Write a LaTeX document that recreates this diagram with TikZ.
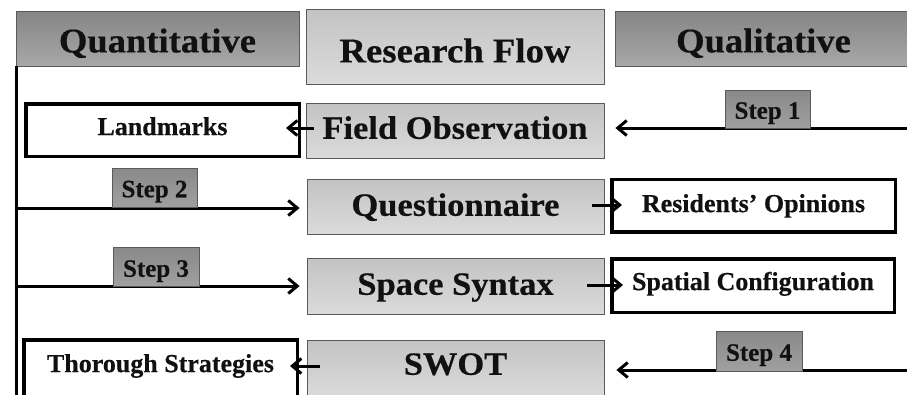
\documentclass[tikz,border=0pt]{standalone}
\usepackage{fontspec}
\newfontfamily\tnr{Liberation Serif}[FakeBold=0.4]
\newfontfamily\tnrw{Liberation Serif}[FakeStretch=1.06,FakeBold=0.4]
\usetikzlibrary{arrows.meta,shadings,calc}
\definecolor{hdrtop}{HTML}{858585}
\definecolor{hdrbot}{HTML}{A8A8A8}
\definecolor{midtop}{HTML}{C3C3C3}
\definecolor{midbot}{HTML}{DBDBDB}
\definecolor{steptop}{HTML}{898989}
\definecolor{stepbot}{HTML}{A0A0A0}
\definecolor{edgegray}{HTML}{5A5A5A}
\definecolor{ink}{HTML}{111111}
\begin{document}
\begin{tikzpicture}[x=1pt,y=-1pt,
  tpos/.style 2 args={text height=#1pt, text depth=#2pt},
  hdr/.style={draw=edgegray, line width=0.8pt, top color=hdrtop, bottom color=hdrbot,
    inner sep=0pt, text=ink, font=\tnrw\bfseries\fontsize{34.5}{38}\selectfont},
  mid/.style={draw=edgegray, line width=0.8pt, top color=midtop, bottom color=midbot,
    inner sep=0pt, text=ink, font=\tnrw\bfseries\fontsize{32.5}{36}\selectfont},
  big/.style={font=\tnrw\bfseries\fontsize{34.7}{38}\selectfont},
  wbox/.style={draw=black, line width=3.5pt, fill=white, inner sep=0pt, text=ink,
    font=\tnr\bfseries\fontsize{26}{29}\selectfont},
  stepbox/.style={draw=edgegray, line width=0.8pt, top color=steptop, bottom color=stepbot,
    inner sep=0pt, text=ink, font=\tnr\bfseries\fontsize{25}{28}\selectfont},
  arr/.style={draw=black, line width=3pt, -{Straight Barb[length=9pt,width=15pt]}},
  plain/.style={draw=black, line width=3pt}
]
\useasboundingbox (0,0) rectangle (907,394);
\clip (0,0) rectangle (907,394);

% header row
\node[hdr, minimum width=283pt, minimum height=55pt, tpos={27.8}{0}] (quant) at (157.5,38.5) {Quantitative};
\node[mid, big, minimum width=298pt, minimum height=75pt, tpos={31.8}{0}] (flow) at (455,46.5) {Research Flow};
\node[hdr, minimum width=297pt, minimum height=55pt, tpos={27.8}{0}] (qual) at (763.5,38.5) {Qualitative};

% middle column
\node[mid, minimum width=298pt, minimum height=55pt, tpos={21.5}{5}] (fo) at (455,130.5) {Field Observation};
\node[mid, minimum width=297pt, minimum height=55pt, tpos={21.5}{3}] (qn) at (455.5,206.5) {Questionnaire};
\node[mid, minimum width=297pt, minimum height=56pt, tpos={21.5}{4}] (ss) at (455.5,286) {Space Syntax};
\node[mid, minimum width=297pt, minimum height=56pt, tpos={21.5}{8}] (swot) at (455.5,368) {SWOT};

% outcome boxes
\node[wbox, minimum width=273.5pt, minimum height=52.5pt, tpos={17.2}{7}] (lm) at (162.5,130) {Landmarks};
\node[wbox, minimum width=283.5pt, minimum height=52.5pt, tpos={17.2}{4}] (res) at (753.5,205.5) {Residents’ Opinions};
\node[wbox, minimum width=282.5pt, minimum height=53.5pt, tpos={17.2}{8}] (sp) at (753,285.5) {Spatial Configuration};
\node[wbox, minimum width=273.5pt, minimum height=56.5pt, tpos={17.2}{9}] (th) at (160.5,368) {Thorough Strategies};

% free ends
\coordinate (s1r) at (910,128);
\coordinate (s4r) at (910,370);
\coordinate (v2) at (16,208);
\coordinate (v3) at (16,286);
\coordinate (vb) at (16,400);

% connectors
\draw[plain] (quant.south west) ++(0.4,0) -- (vb);
\draw[arr] (s1r) -- ($(fo.east|-s1r)+(11,0)$);
\draw[arr] ($(fo.west)+(8,-2.5)$) -- ($(lm.east)+(-15,-2)$);
\draw[arr] (v2) -- ($(qn.west|-v2)+(-7,0)$);
\draw[arr] ($(qn.east)+(-12,-1.5)$) -- ($(res.west)+(12,-0.5)$);
\draw[arr] (v3) -- ($(ss.west|-v3)+(-7,0)$);
\draw[arr] ($(ss.east)+(-17,-1)$) -- ($(sp.west)+(13,-0.5)$);
\draw[arr] (s4r) -- ($(swot.east|-s4r)+(12,0)$);
\draw[arr] ($(swot.west)+(13,-2)$) -- ($(th.east)+(-9,-2)$);

% step labels
\node[stepbox, minimum width=85pt, minimum height=38pt, tpos={19.5}{0}] (st1) at (767.5,109) {Step 1};
\node[stepbox, minimum width=85pt, minimum height=39pt, tpos={19.5}{0}] (st2) at (154.5,187.5) {Step 2};
\node[stepbox, minimum width=86pt, minimum height=39pt, tpos={20.5}{0}] (st3) at (156,266.5) {Step 3};
\node[stepbox, minimum width=86pt, minimum height=40pt, tpos={19.5}{0}] (st4) at (759,351) {Step 4};
\end{tikzpicture}
\end{document}
